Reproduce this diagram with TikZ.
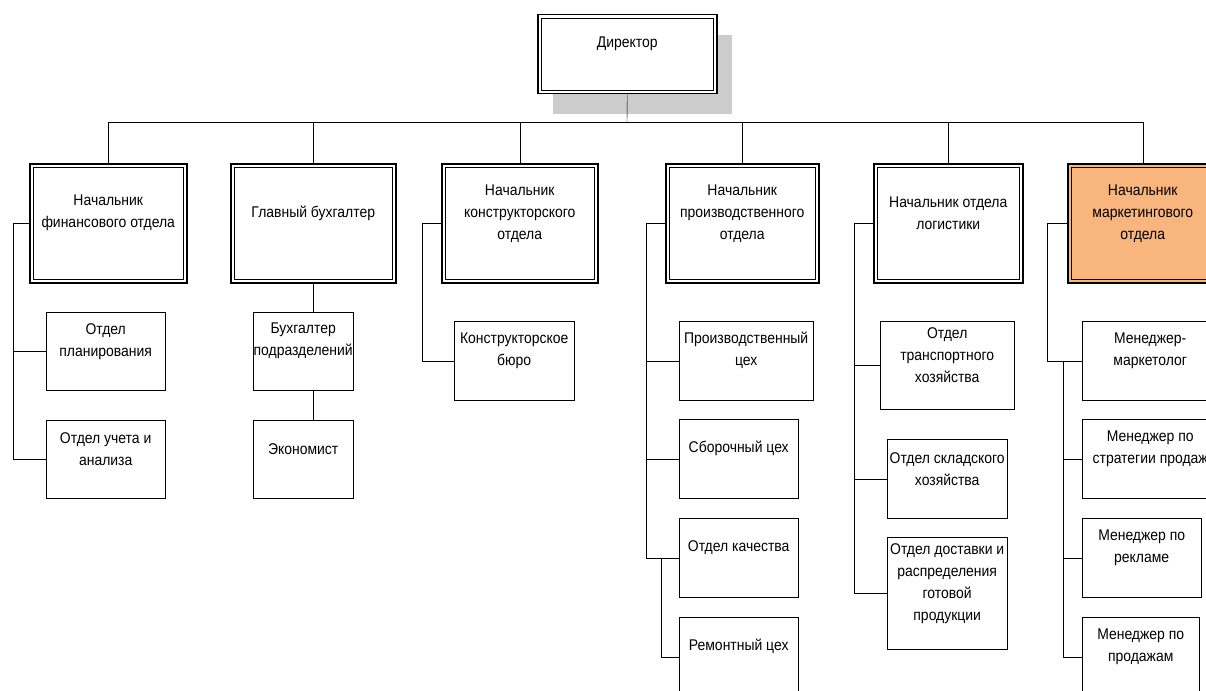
\documentclass[tikz,border=0pt]{standalone}
\usepackage{fontspec}
\setmainfont{Liberation Sans}[FakeStretch=0.9]
\usepackage{tikz}
\usetikzlibrary{shadows}
\definecolor{mktorange}{RGB}{248,182,126}

\begin{document}
\begin{tikzpicture}[x=1pt,y=-1pt,
	unit/.style 2 args={draw, inner sep=0pt, anchor=north west, minimum width=#1, minimum height=#2},
	head/.style 2 args={unit={#1}{#2}, line width=1.5pt, fill=white,
		path picture={\draw[line width=0.7pt] ([shift={(3.5pt,3.5pt)}]path picture bounding box.south west) rectangle ([shift={(-3.5pt,-3.5pt)}]path picture bounding box.north east);}},
	txt/.style={align=center, yshift=10pt, font=\fontsize{15.5}{22}\selectfont}]
	\useasboundingbox (0,0) rectangle (1206,690);
	\node[head={179}{79}, drop shadow={shadow xshift=15pt, shadow yshift=-20pt, fill=black!20, opacity=1}, label={[txt]center:Директор}] (dir) at (537,14) {};
	\node[head={157}{119}, label={[txt]center:Начальник\\финансового отдела}] (fin) at (29,163) {};
	\node[head={165}{119}, label={[txt]center:Главный бухгалтер}] (buh) at (230,163) {};
	\node[head={156}{119}, label={[txt]center:Начальник\\конструкторского\\отдела}] (kon) at (441,163) {};
	\node[head={153}{119}, label={[txt]center:Начальник\\производственного\\отдела}] (pro) at (665,163) {};
	\node[head={149}{119}, label={[txt]center:Начальник отдела\\логистики}] (log) at (873,163) {};
	\node[head={150}{119}, fill=mktorange, label={[txt]center:Начальник\\маркетингового\\отдела}] (mkt) at (1067,163) {};

	\node[unit={119}{78}, label={[txt]center:Отдел\\планирования}] (plan) at (46,312) {};
	\node[unit={119}{78}, label={[txt]center:Отдел учета и\\анализа}] (uchet) at (46,420) {};
	\node[unit={100}{78}, label={[txt]center:Бухгалтер\\подразделений}] (bp) at (253,312) {};
	\node[unit={100}{78}, label={[txt]center:Экономист}] (ekon) at (253,420) {};
	\node[unit={120}{79}, label={[txt]center:Конструкторское\\бюро}] (kb) at (454,321) {};
	\node[unit={134}{79}, label={[txt]center:Производственный\\цех}] (pt) at (679,321) {};
	\node[unit={119}{79}, label={[txt]center:Сборочный цех}] (sb) at (679,419) {};
	\node[unit={119}{79}, label={[txt]center:Отдел качества}] (ok) at (679,518) {};
	\node[unit={119}{79}, label={[txt]center:Ремонтный цех}] (rt) at (679,617) {};
	\node[unit={134}{88}, label={[txt]center:Отдел\\транспортного\\хозяйства}] (tr) at (880,321) {};
	\node[unit={120}{79}, label={[txt]center:Отдел складского\\хозяйства}] (sk) at (887,439) {};
	\node[unit={120}{112}, label={[txt]center:Отдел доставки и\\распределения\\готовой\\продукции}] (dv) at (887,537) {};
	\node[unit={136}{79}, label={[txt]center:Менеджер-\\маркетолог}] (mm) at (1082,321) {};
	\node[unit={136}{79}, label={[txt]center:Менеджер по\\стратегии продаж}] (ms) at (1082,419) {};
	\node[unit={119}{79}, label={[txt]center:Менеджер по\\рекламе}] (mr) at (1082,518) {};
	\node[unit={117}{79}, label={[txt]center:Менеджер по\\продажам}] (mp) at (1082,617) {};

	\coordinate (bus) at (627,122);
	\draw (dir.south) -- (bus);
	\foreach \n in {fin,buh,kon,pro,log,mkt}
		\draw (\n.north) |- (bus);

	\coordinate (fj) at ([xshift=-16pt]fin.west);
	\draw (fin.west) -- (fj) |- (uchet.west);
	\draw (fj |- plan.west) -- (plan.west);

	\draw (buh.south) -- (buh.south |- bp.north);
	\draw (bp.south -| buh.south) -- (ekon.north -| buh.south);

	\coordinate (kj) at ([xshift=-19pt]kon.west);
	\draw (kon.west) -- (kj) |- (kb.west);

	\coordinate (pj) at ([xshift=-19pt]pro.west);
	\draw (pro.west) -- (pj) |- (ok.west);
	\foreach \n in {pt,sb}
		\draw (pj |- \n.west) -- (\n.west);
	\coordinate (rj) at ([xshift=-18pt]ok.west);
	\draw (rj) |- (rt.west);

	\coordinate (lj) at ([xshift=-19pt]log.west);
	\draw (log.west) -- (lj) |- (dv.west);
	\foreach \n in {tr,sk}
		\draw (lj |- \n.west) -- (\n.west);

	\coordinate (mj) at ([xshift=-20pt]mkt.west);
	\draw (mkt.west) -- (mj) |- (mm.west);
	\coordinate (mk) at ([xshift=-19pt]mm.west);
	\draw (mk) |- (mp.west);
	\foreach \n in {ms,mr}
		\draw (mk |- \n.west) -- (\n.west);
\end{tikzpicture}
\end{document}
